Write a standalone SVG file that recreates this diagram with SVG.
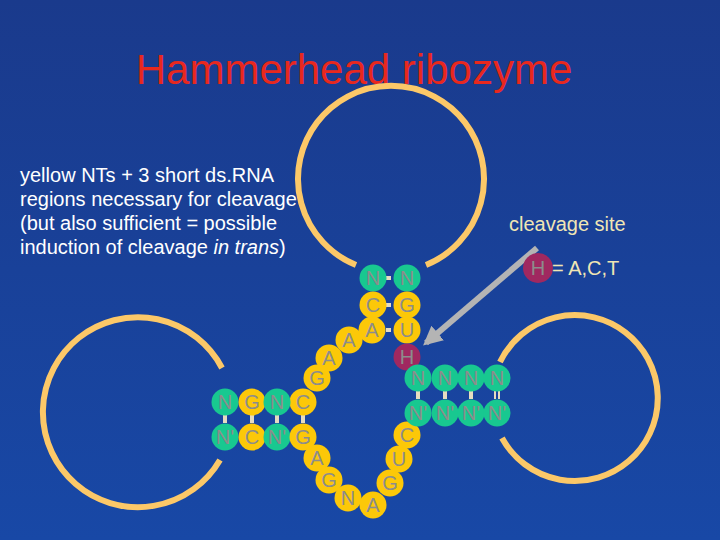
<svg xmlns="http://www.w3.org/2000/svg" width="720" height="540" viewBox="0 0 720 540">
<defs>
<linearGradient id="bg" x1="0" y1="0" x2="0" y2="1"><stop offset="0" stop-color="#1a3a8c"/><stop offset="1" stop-color="#1848a6"/></linearGradient>
<marker id="ah" viewBox="0 0 10 10" refX="8" refY="5" markerWidth="3.2" markerHeight="3.2" orient="auto"><path d="M0,0L10,5L0,10z" fill="#b4b4b4"/></marker>
</defs>
<style>
.loop{fill:none;stroke:#fcc868;stroke-width:6}
.y{fill:#fcc808}.g{fill:#18c890}.m{fill:#a02860}
.l{font-family:"Liberation Sans",Arial,sans-serif;font-size:20px;fill:#8c8c8c;text-anchor:middle;dominant-baseline:central}
.t{font-family:"Liberation Sans",Arial,sans-serif;font-size:20px;fill:#ffffff}
.c{font-family:"Liberation Sans",Arial,sans-serif;font-size:20px;fill:#f0e6b4}
.b{fill:#e6dcc0}
</style>
<rect width="720" height="540" fill="url(#bg)"/>
<text x="354" y="84" font-family="Liberation Sans,Arial,sans-serif" font-size="42" fill="#e8281e" text-anchor="middle">Hammerhead ribozyme</text>
<text class="t" x="20" y="182">yellow NTs + 3 short ds.RNA</text>
<text class="t" x="20" y="206">regions necessary for cleavage</text>
<text class="t" x="20" y="230">(but also sufficient = possible</text>
<text class="t" x="20" y="254">induction of cleavage <tspan font-style="italic">in trans</tspan>)</text>
<text class="c" x="509" y="231">cleavage site</text>
<g id="loops">
<path class="loop" d="M356,265 A93,93 0 1 1 426,265"/>
<path class="loop" d="M222,368 A95,95 0 1 0 220,460"/>
<path class="loop" d="M500,362 A83,83 0 1 1 502,438"/>
</g>
<g id="connectors">
<line x1="537" y1="248" x2="426" y2="343" stroke="#b4b4b4" stroke-width="6" marker-end="url(#ah)"/>
<g class="b">
<rect x="386" y="276" width="5" height="4"/><rect x="386" y="303" width="5" height="4"/><rect x="386" y="328" width="5" height="4"/>
<rect x="223" y="415" width="4" height="8"/><rect x="250" y="415" width="4" height="8"/><rect x="275" y="415" width="4" height="8"/><rect x="301" y="415" width="4" height="8"/>
<rect x="416" y="391" width="4" height="8"/><rect x="443" y="391" width="4" height="8"/><rect x="469" y="391" width="4" height="8"/><rect x="494" y="391" width="2" height="8"/><rect x="498" y="391" width="2" height="8"/>
</g>
</g>
<g id="nodes">
<g id="n1"><circle class="g" cx="373" cy="278" r="13.5"/><text class="l" x="373" y="278">N</text></g>
<g id="n2"><circle class="g" cx="407" cy="278" r="13.5"/><text class="l" x="407" y="278">N</text></g>
<g id="n3"><circle class="y" cx="373" cy="305" r="13.5"/><text class="l" x="373" y="305">C</text></g>
<g id="n4"><circle class="y" cx="407" cy="305" r="13.5"/><text class="l" x="407" y="305">G</text></g>
<g id="n5"><circle class="y" cx="372" cy="330" r="13.5"/><text class="l" x="372" y="330">A</text></g>
<g id="n6"><circle class="y" cx="407" cy="330" r="13.5"/><text class="l" x="407" y="330">U</text></g>
<g id="n7"><circle class="y" cx="349" cy="340" r="13.5"/><text class="l" x="349" y="340">A</text></g>
<g id="n8"><circle class="y" cx="329" cy="358" r="13.5"/><text class="l" x="329" y="358">A</text></g>
<g id="n9"><circle class="y" cx="317" cy="378" r="13.5"/><text class="l" x="317" y="378">G</text></g>
<g id="n10"><circle class="y" cx="303" cy="402" r="13.5"/><text class="l" x="303" y="402">C</text></g>
<g id="n11"><circle class="g" cx="225" cy="402" r="13.5"/><text class="l" x="225" y="402">N</text></g>
<g id="n12"><circle class="y" cx="252" cy="402" r="13.5"/><text class="l" x="252" y="402">G</text></g>
<g id="n13"><circle class="g" cx="277" cy="402" r="13.5"/><text class="l" x="277" y="402">N</text></g>
<g id="n14"><circle class="g" cx="225" cy="437" r="13.5"/><text class="l" x="225" y="437">N'</text></g>
<g id="n15"><circle class="y" cx="252" cy="437" r="13.5"/><text class="l" x="252" y="437">C</text></g>
<g id="n16"><circle class="g" cx="277" cy="437" r="13.5"/><text class="l" x="277" y="437">N'</text></g>
<g id="n17"><circle class="y" cx="303" cy="437" r="13.5"/><text class="l" x="303" y="437">G</text></g>
<g id="n18"><circle class="y" cx="317" cy="458" r="13.5"/><text class="l" x="317" y="458">A</text></g>
<g id="n19"><circle class="y" cx="329" cy="480" r="13.5"/><text class="l" x="329" y="480">G</text></g>
<g id="n20"><circle class="y" cx="348" cy="498" r="13.5"/><text class="l" x="348" y="498">N</text></g>
<g id="n21"><circle class="y" cx="373" cy="505" r="13.5"/><text class="l" x="373" y="505">A</text></g>
<g id="n22"><circle class="y" cx="390" cy="483" r="13.5"/><text class="l" x="390" y="483">G</text></g>
<g id="n23"><circle class="y" cx="399" cy="459" r="13.5"/><text class="l" x="399" y="459">U</text></g>
<g id="n24"><circle class="y" cx="407" cy="435" r="13.5"/><text class="l" x="407" y="435">C</text></g>
<g id="n25"><circle class="m" cx="407" cy="357" r="13.5"/><text class="l" x="407" y="357">H</text></g>
<g id="n26"><circle class="g" cx="418" cy="378" r="13.5"/><text class="l" x="418" y="378">N</text></g>
<g id="n27"><circle class="g" cx="445" cy="378" r="13.5"/><text class="l" x="445" y="378">N</text></g>
<g id="n28"><circle class="g" cx="471" cy="378" r="13.5"/><text class="l" x="471" y="378">N</text></g>
<g id="n29"><circle class="g" cx="497" cy="378" r="13.5"/><text class="l" x="497" y="378">N</text></g>
<g id="n30"><circle class="g" cx="418" cy="413" r="13.5"/><text class="l" x="418" y="413">N'</text></g>
<g id="n31"><circle class="g" cx="445" cy="413" r="13.5"/><text class="l" x="445" y="413">N'</text></g>
<g id="n32"><circle class="g" cx="471" cy="413" r="13.5"/><text class="l" x="471" y="413">N'</text></g>
<g id="n33"><circle class="g" cx="497" cy="413" r="13.5"/><text class="l" x="497" y="413">N'</text></g>
<g id="legend"><circle class="m" cx="538" cy="268" r="15"/><text class="l" x="538" y="268">H</text><text class="c" x="552" y="275">= A,C,T</text></g>
</g>
</svg>
